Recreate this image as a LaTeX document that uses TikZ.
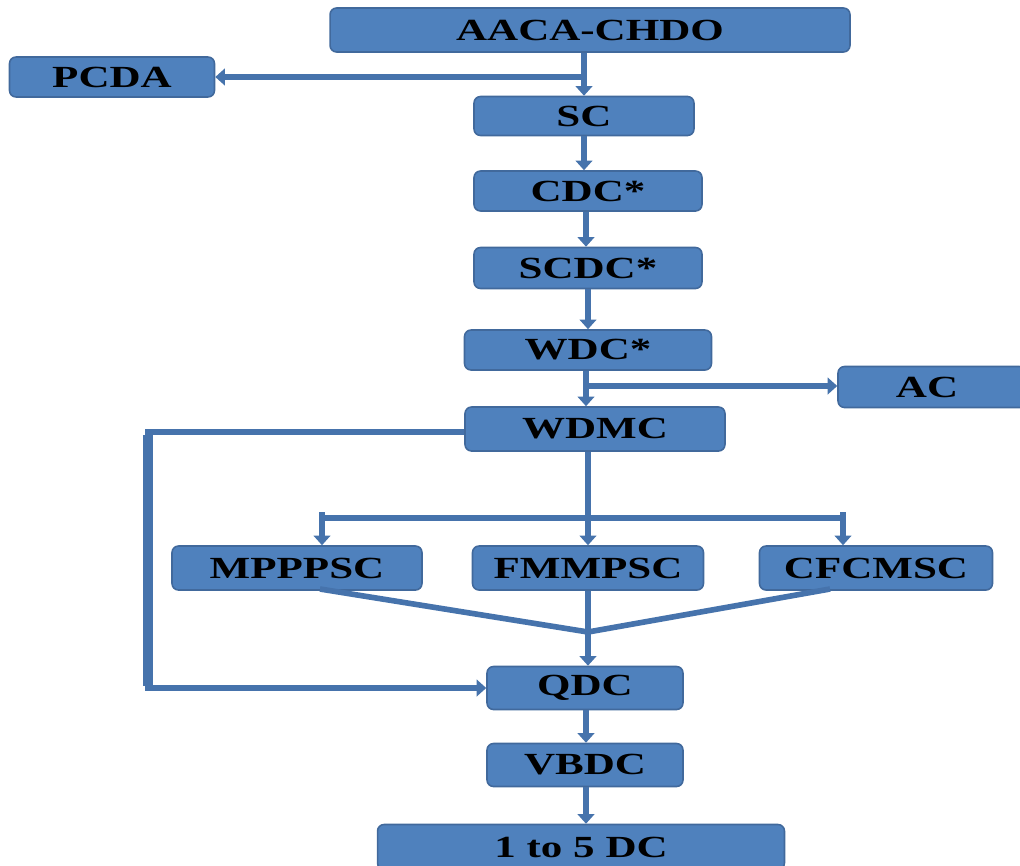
\documentclass[tikz,border=0pt]{standalone}
\usepackage{fontspec}
\newfontfamily\boxfont{Liberation Serif}[FakeStretch=1.4]
\usetikzlibrary{arrows.meta}
\definecolor{boxfill}{HTML}{4F81BD}
\definecolor{boxline}{HTML}{41699C}
\definecolor{conn}{HTML}{4673AC}
\tikzset{
  box/.style={draw=boxline, line width=0.9pt, fill=boxfill, rounded corners=0.13cm,
    inner sep=0pt, align=center, font=\boxfont\bfseries\fontsize{17.5}{19}\selectfont},
  link/.style={draw=conn, line width=3.2pt},
  arr/.style={link, -{Triangle[width=9.5pt,length=5.5pt]}},
}
\begin{document}
\begin{tikzpicture}[x=0.02cm,y=-0.02cm]
\clip (0,0) rectangle (1020,865);
\fill[white] (0,0) rectangle (1020,865);
% nodes
\node[box, minimum width=10.4cm, minimum height=0.88cm] (aaca) at (590,30) {AACA-CHDO};
\node[box, minimum width=4.1cm, minimum height=0.8cm] (pcda) at (112,77) {PCDA};
\node[box, minimum width=4.4cm, minimum height=0.78cm] (sc) at (584,116) {SC};
\node[box, minimum width=4.56cm, minimum height=0.8cm] (cdc) at (588,191) {CDC*};
\node[box, minimum width=4.56cm, minimum height=0.82cm] (scdc) at (588,268) {SCDC*};
\node[box, minimum width=4.94cm, minimum height=0.8cm] (wdc) at (588,350) {WDC*};
\node[box, minimum width=3.76cm, minimum height=0.82cm] (ac) at (932,387) {\hspace*{-0.1cm}AC\hspace*{0.1cm}};
\node[box, minimum width=5.2cm, minimum height=0.88cm] (wdmc) at (595,429) {WDMC};
\node[box, minimum width=5.0cm, minimum height=0.88cm] (mpp) at (297,568) {MPPPSC};
\node[box, minimum width=4.62cm, minimum height=0.88cm] (fmm) at (588,568) {FMMPSC};
\node[box, minimum width=4.66cm, minimum height=0.88cm] (cfc) at (876,568) {CFCMSC};
\node[box, minimum width=3.92cm, minimum height=0.86cm] (qdc) at (585,688) {QDC};
\node[box, minimum width=3.92cm, minimum height=0.86cm] (vbdc) at (585,765) {VBDC};
\node[box, minimum width=8.14cm, minimum height=0.9cm] (dc) at (581,847) {1 to 5 DC};
% coordinates
\coordinate (t1) at (584,0);
\coordinate (t2) at (586,0);
\coordinate (t3) at (588,0);
\coordinate (bpcda) at (584,77);
\coordinate (bac) at (586,386);
\coordinate (lw) at (148,432);
\coordinate (lq) at (148,688);
\coordinate (barl) at (322,518);
\coordinate (barr) at (843,518);
\coordinate (ml) at (320,589);
\coordinate (mr) at (830,589);
\coordinate (merge) at (588,632);
% connectors
\draw[arr] (aaca.south -| t1) -- (sc.north -| t1);
\draw[arr] (bpcda) -- (pcda.east);
\draw[arr] (sc.south -| t1) -- (cdc.north -| t1);
\draw[arr] (cdc.south -| t2) -- (scdc.north -| t2);
\draw[arr] (scdc.south -| t3) -- (wdc.north -| t3);
\draw[arr] (wdc.south -| t2) -- (wdmc.north -| t2);
\draw[arr] (bac) -- (ac.west |- bac);
\draw[arr] (wdmc.west |- lw) -- (lw) -- (lq) -- (qdc.west |- lq);
\draw[draw=conn, line width=5.5pt] ([yshift=-0.05cm]lw) -- ([yshift=0.05cm]lq);
\draw[arr] (wdmc.south -| t3) -- (fmm.north -| t3);
\draw[link] (barl) -- (barr);
\draw[arr] ([yshift=0.12cm]barl) -- (mpp.north -| barl);
\draw[arr] ([yshift=0.12cm]barr) -- (cfc.north -| barr);
\draw[link] (ml) -- (merge);
\draw[link] (mr) -- (merge);
\draw[arr] (fmm.south -| t3) -- (qdc.north -| t3);
\draw[arr] (qdc.south -| t2) -- (vbdc.north -| t2);
\draw[arr] (vbdc.south -| t2) -- (dc.north -| t2);
\end{tikzpicture}
\end{document}
